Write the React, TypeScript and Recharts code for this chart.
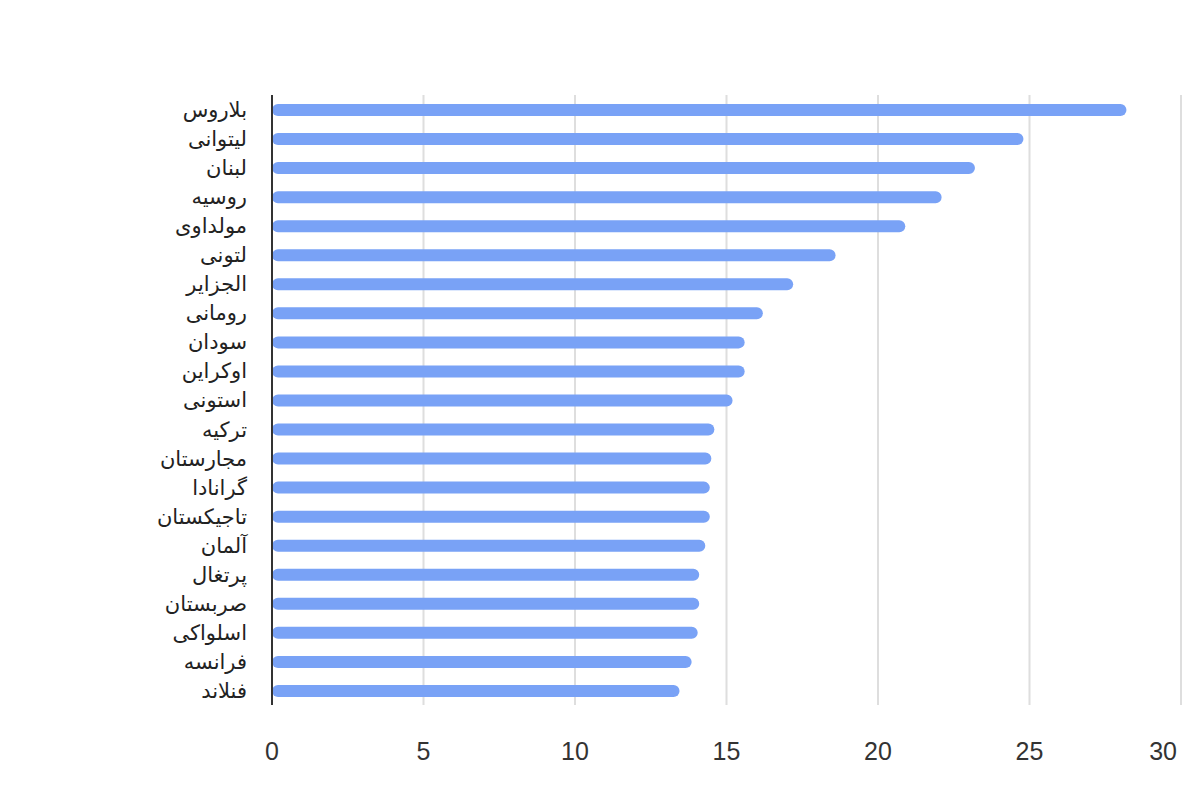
import React from 'react';
import { BarChart, Bar, XAxis, YAxis, CartesianGrid } from 'recharts';

const countries = [
  'بلاروس', 'لیتوانی', 'لبنان', 'روسیه', 'مولداوی', 'لتونی', 'الجزایر',
  'رومانی', 'سودان', 'اوکراین', 'استونی', 'ترکیه', 'مجارستان', 'گرانادا',
  'تاجیکستان', 'آلمان', 'پرتغال', 'صربستان', 'اسلواکی', 'فرانسه', 'فنلاند',
];

const values = [
  28.2, 24.8, 23.2, 22.1, 20.9, 18.6, 17.2,
  16.2, 15.6, 15.6, 15.2, 14.6, 14.5, 14.45,
  14.45, 14.3, 14.1, 14.1, 14.05, 13.85, 13.45,
];

const xTicks = [0, 5, 10, 15, 20, 25, 30];

const data = countries.map((name, i) => ({ name, value: values[i] }));

// last tick label is pulled inside the plot, like the original
const XTick = (props: any) => {
  const { x, y, payload } = props;
  const isLast = payload.value === xTicks[xTicks.length - 1];
  return (
    <text
      x={isLast ? x - 4 : x}
      y={y}
      dy="0.71em"
      textAnchor={isLast ? 'end' : 'middle'}
      fill="#333"
      fontSize={25}
      fontFamily="'Liberation Sans', Arial, sans-serif"
    >
      {payload.value}
    </text>
  );
};

export default function App() {
  return (
    <div style={{ position: 'absolute', left: 0, top: 0, width: 1200, height: 800, background: '#fff' }}>
      <BarChart
        width={1200}
        height={800}
        data={data}
        layout="vertical"
        margin={{ top: 95, right: 19, bottom: 35, left: 0 }}
        barCategoryGap={0}
      >
        <CartesianGrid horizontal={false} stroke="#dedede" strokeWidth={2} />
        <XAxis
          type="number"
          domain={[0, 30]}
          ticks={xTicks}
          axisLine={false}
          tickLine={false}
          tickSize={0}
          tickMargin={37}
          height={60}
          tick={<XTick />}
        />
        <YAxis
          type="category"
          dataKey="name"
          width={272}
          interval={0}
          tickLine={false}
          tickSize={0}
          tickMargin={25}
          axisLine={{ stroke: '#333', strokeWidth: 2 }}
          tick={{ fill: '#222', fontSize: 21, fontFamily: "'Liberation Sans', Arial, 'DejaVu Sans', sans-serif" }}
        />
        <Bar
          dataKey="value"
          fill="#79a2f6"
          barSize={12}
          radius={6}
          isAnimationActive={false}
        />
      </BarChart>
    </div>
  );
}
